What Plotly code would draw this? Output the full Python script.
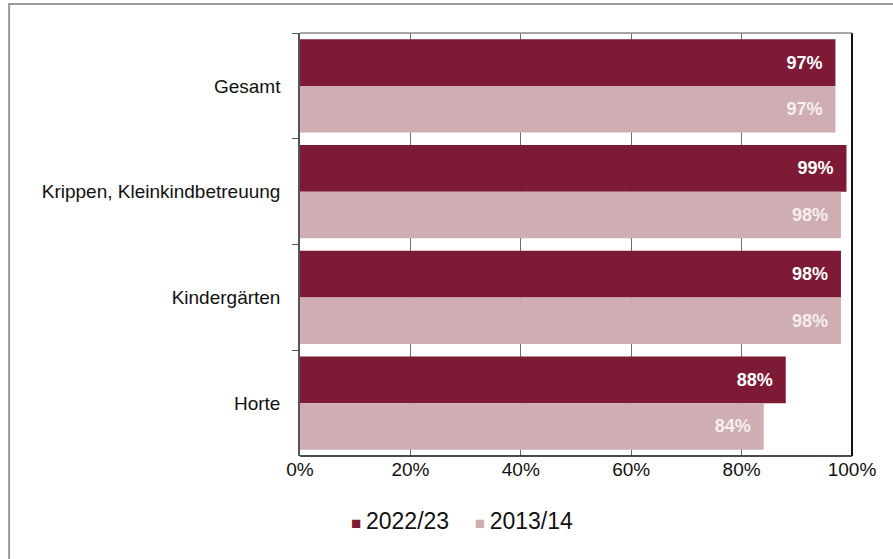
import plotly.graph_objects as go

categories = ["Gesamt", "Krippen, Kleinkindbetreuung", "Kindergärten", "Horte"]
series_names = ["2022/23", "2013/14"]
values_2022 = [97, 99, 98, 88]
values_2013 = [97, 98, 98, 84]
x_ticks = [0, 20, 40, 60, 80, 100]
x_tick_labels = ["0%", "20%", "40%", "60%", "80%", "100%"]

dark = "#7D1A36"
light = "#CEADB3"
FONT = "Liberation Sans, Arial, sans-serif"

fig = go.Figure()
for name, vals, col, tcol in [(series_names[0], values_2022, dark, "white"),
                              (series_names[1], values_2013, light, "#F7EEF0")]:
    fig.add_trace(go.Bar(
        y=categories, x=vals, name=name, orientation="h",
        marker=dict(color=col, line=dict(width=0)),
        text=[f"{v}%  " for v in vals], textposition="inside",
        insidetextanchor="end",
        textfont=dict(family=FONT, size=18, color=tcol, weight="bold"),
        cliponaxis=False, showlegend=False,
    ))

legend_text = (f'<span style="color:{dark};font-size:17px">■ </span>{series_names[0]}'
               f'&nbsp;&nbsp;&nbsp;&nbsp;<span style="color:{light};font-size:17px">■ </span>{series_names[1]}')

fig.update_layout(
    width=893, height=559,
    margin=dict(l=300, r=41, t=33, b=103, autoexpand=False),
    paper_bgcolor="white", plot_bgcolor="white",
    barmode="group", bargap=0.12, bargroupgap=0,
    font=dict(family=FONT, size=19, color="#111111"),
    uniformtext=dict(mode=False),
    annotations=[dict(text=legend_text, xref="paper", yref="paper", x=0.088, y=-0.154,
                      xanchor="left", yanchor="middle", showarrow=False,
                      font=dict(family=FONT, size=23, color="#111111"))],
    shapes=[
        dict(type="rect", xref="paper", yref="paper", x0=-0.527, x1=1.2, y0=-0.4, y1=1.0686,
             line=dict(color="#9A9A9A", width=2), fillcolor="rgba(0,0,0,0)", layer="below"),
        dict(type="line", xref="paper", yref="paper", x0=1, x1=1, y0=0, y1=1,
             line=dict(color="#111111", width=2)),
        dict(type="line", xref="paper", yref="paper", x0=0, x1=1, y0=0, y1=0,
             line=dict(color="#111111", width=1.5)),
        dict(type="line", xref="paper", yref="paper", x0=0, x1=1, y0=1, y1=1,
             line=dict(color="#888888", width=1.5)),
    ],
)
fig.update_xaxes(range=[0, 100], tickmode="array", tickvals=x_ticks, ticktext=x_tick_labels,
                 showgrid=True, gridcolor="#6E6E6E", gridwidth=1, zeroline=False, automargin=False,
                 showline=False, ticks="", tickfont=dict(size=19, color="#111111"))
fig.update_yaxes(autorange="reversed", showline=True, linecolor="#555555", linewidth=1.5,
                 ticks="outside", tickson="boundaries", ticklen=6, tickcolor="#555555", automargin=False,
                 showgrid=False, tickfont=dict(size=19, color="#111111"), ticklabelstandoff=14)

fig.write_html("out.html", config={"displayModeBar": False},
               post_script="document.body.style.margin='0';")
